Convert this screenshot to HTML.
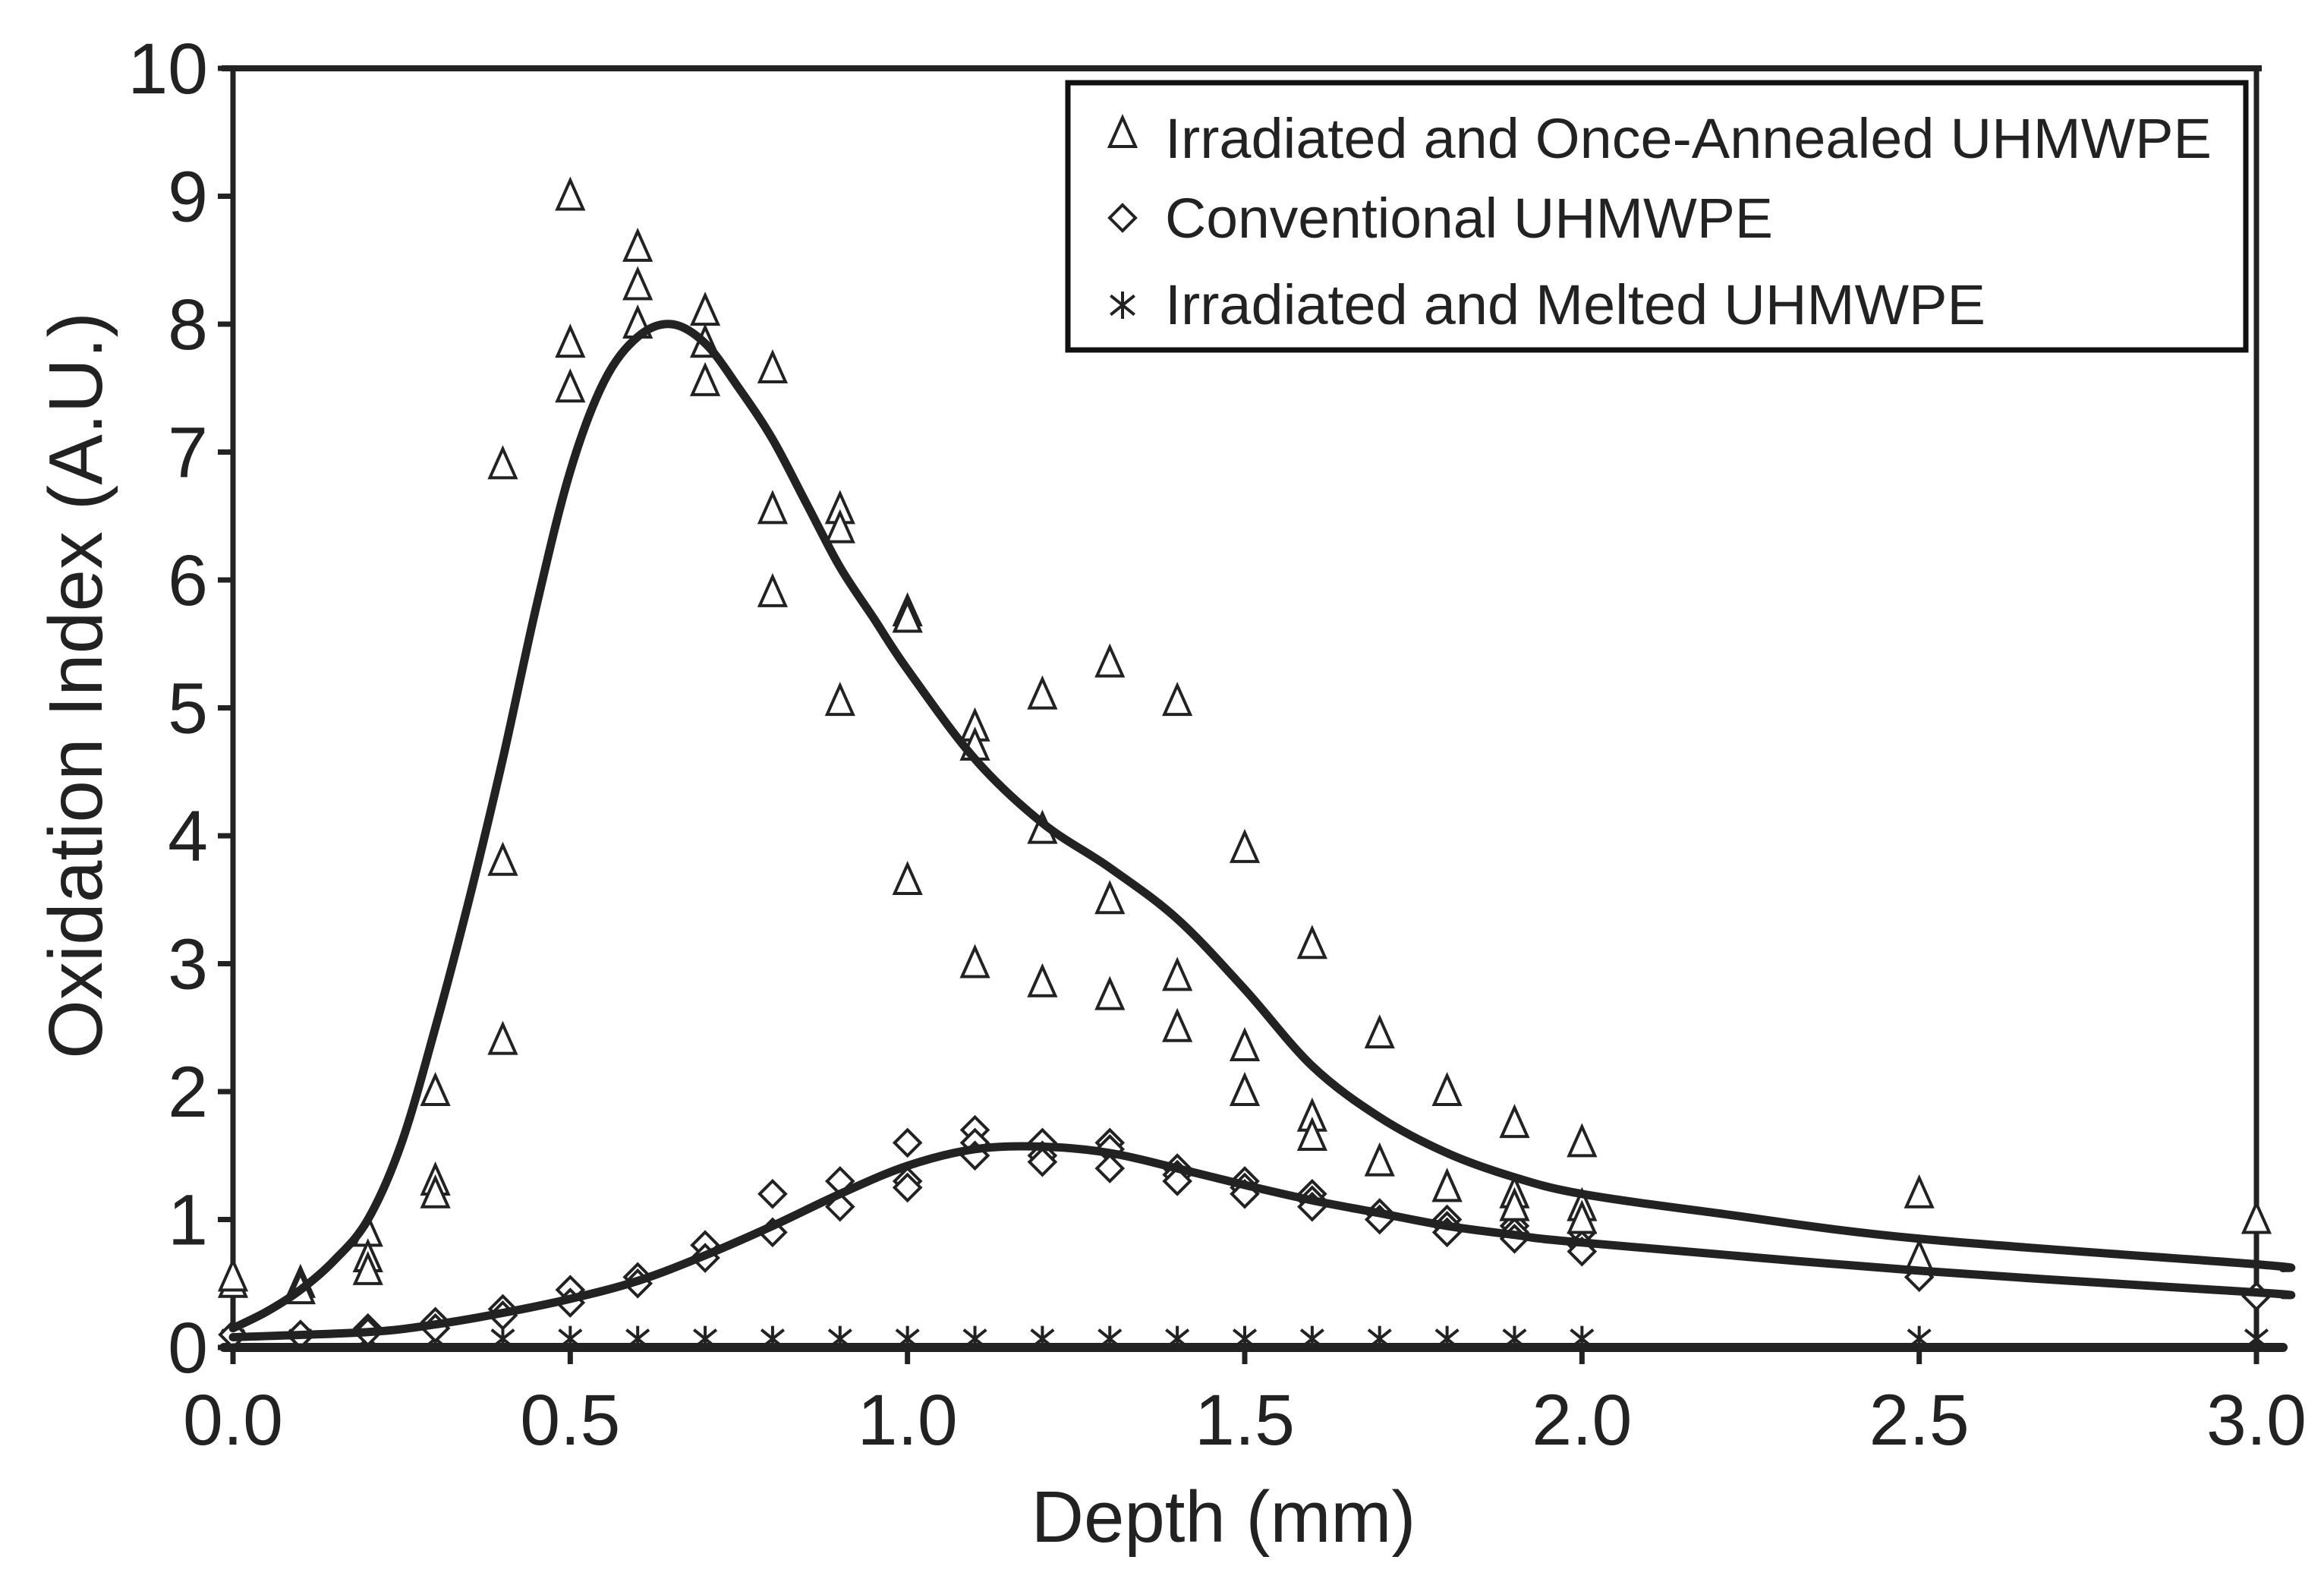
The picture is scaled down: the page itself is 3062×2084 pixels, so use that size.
<!DOCTYPE html>
<html><head><meta charset="utf-8"><style>
html,body{margin:0;padding:0;background:#fff;}
svg{display:block;font-family:"Liberation Sans",Arial,sans-serif;}
</style></head><body>
<svg id="chart" width="3062" height="2084" viewBox="0 0 3062 2084">
<g id="plot"></g>
</svg>
<script>
const xTicks=[0,0.5,1.0,1.5,2.0,2.5,3.0];
const xTickLabels=["0.0","0.5","1.0","1.5","2.0","2.5","3.0"];
const yTicks=[0,1,2,3,4,5,6,7,8,9,10];
const yTickLabels=["0","1","2","3","4","5","6","7","8","9","10"];
const annealedX=[0,0,0.1,0.1,0.2,0.2,0.2,0.3,0.3,0.3,0.4,0.4,0.4,0.5,0.5,0.5,0.6,0.6,0.6,0.7,0.7,0.7,0.8,0.8,0.8,0.9,0.9,0.9,1.0,1.0,1.0,1.1,1.1,1.1,1.2,1.2,1.2,1.3,1.3,1.3,1.4,1.4,1.4,1.5,1.5,1.5,1.6,1.6,1.6,1.7,1.7,1.8,1.8,1.8,1.9,1.9,1.9,2.0,2.0,2.0,2.5,2.5,3.0];
const annealedY=[0.5,0.55,0.5,0.45,0.9,0.7,0.6,2.0,1.3,1.2,6.9,3.8,2.4,9.0,7.85,7.5,8.6,8.3,8.0,8.1,7.85,7.55,7.65,6.55,5.9,6.55,6.4,5.05,5.75,5.7,3.65,4.85,4.7,3.0,5.1,4.05,2.85,5.35,3.5,2.75,5.05,2.9,2.5,3.9,2.35,2.0,3.15,1.8,1.65,2.45,1.45,2.0,1.25,1.25,1.75,1.2,1.1,1.6,1.1,1.0,1.2,0.7,1.0];
const convX=[0,0.1,0.1,0.2,0.2,0.3,0.3,0.4,0.4,0.5,0.5,0.6,0.6,0.7,0.7,0.8,0.8,0.9,0.9,1.0,1.0,1.0,1.1,1.1,1.1,1.2,1.2,1.2,1.3,1.3,1.3,1.4,1.4,1.4,1.5,1.5,1.5,1.6,1.6,1.6,1.7,1.7,1.8,1.8,1.8,1.9,1.9,1.9,2.0,2.0,2.0,2.5,2.5,3.0];
const convY=[0.1,0.1,0.1,0.15,0.12,0.2,0.15,0.3,0.25,0.45,0.35,0.55,0.5,0.8,0.7,1.2,0.9,1.3,1.1,1.6,1.3,1.25,1.7,1.6,1.5,1.6,1.5,1.45,1.6,1.55,1.4,1.4,1.35,1.3,1.3,1.25,1.2,1.2,1.15,1.1,1.05,1.0,1.0,0.95,0.9,0.95,0.9,0.85,0.9,0.8,0.75,0.6,0.55,0.4];
const meltedX=[0,0.1,0.2,0.3,0.4,0.5,0.6,0.7,0.8,0.9,1.0,1.1,1.2,1.3,1.4,1.5,1.6,1.7,1.8,1.9,2.0,2.5,3.0];
const meltedY=[0.02,0.02,0.02,0.02,0.02,0.02,0.02,0.02,0.02,0.02,0.02,0.02,0.02,0.02,0.02,0.02,0.02,0.02,0.02,0.02,0.02,0.02,0.02];
const fitAX=[0,0.05,0.1,0.15,0.2,0.25,0.3,0.35,0.4,0.45,0.5,0.55,0.6,0.65,0.7,0.75,0.8,0.85,0.9,0.95,1.0,1.1,1.2,1.3,1.4,1.5,1.6,1.7,1.8,1.9,2.0,2.2,2.5,3.0,3.04];
const fitAY=[0.15,0.28,0.45,0.68,1.0,1.6,2.5,3.5,4.6,5.8,6.85,7.55,7.9,8.0,7.85,7.5,7.1,6.6,6.1,5.7,5.3,4.6,4.1,3.75,3.35,2.8,2.2,1.8,1.52,1.33,1.2,1.05,0.85,0.65,0.62];
const fitCX=[0,0.2,0.3,0.4,0.5,0.6,0.7,0.8,0.9,1.0,1.1,1.2,1.3,1.4,1.5,1.6,1.7,1.8,1.9,2.0,2.5,3.0,3.04];
const fitCY=[0.08,0.12,0.18,0.27,0.38,0.52,0.72,0.95,1.2,1.42,1.55,1.57,1.52,1.4,1.27,1.15,1.05,0.95,0.88,0.82,0.6,0.43,0.41];
const fitMX=[0,3.04];
const fitMY=[0,0];

const X0=307,X1=2973,Y0=1775,Y1=90;
const sx=v=>X0+(v-0)/(3-0)*(X1-X0);
const sy=v=>Y0-(v-0)/(10-0)*(Y0-Y1);
const NS="http://www.w3.org/2000/svg";
const g=document.getElementById('plot');
function mk(tag,attrs,parent){const e=document.createElementNS(NS,tag);for(const k in attrs)e.setAttribute(k,attrs[k]);(parent||g).appendChild(e);return e;}

let e;
e=mk('line',{x1:X0,y1:Y1,x2:X0,y2:Y0+8,stroke:'#222','stroke-width':7});


e=mk('line',{x1:X0-15,y1:Y1,x2:2980,y2:Y1,stroke:'#222','stroke-width':8});


e=mk('line',{x1:X1,y1:Y1,x2:X1,y2:Y0+22,stroke:'#222','stroke-width':7});


e=mk('line',{x1:X0-12,y1:Y0,x2:3008,y2:Y0,stroke:'#222','stroke-width':12,'stroke-linecap':'round'});



yTicks.forEach((v,i)=>{
  const t=mk('line',{x1:X0-20,y1:sy(v),x2:X0,y2:sy(v),stroke:'#222','stroke-width':7});
  
  
  const l=mk('text',{x:274,y:sy(v)+33,'text-anchor':'end','font-size':95,fill:'#222'});
  l.textContent=yTickLabels[i];
  
  
});
xTicks.forEach((v,i)=>{
  const t=mk('line',{x1:sx(v),y1:Y0,x2:sx(v),y2:Y0+22,stroke:'#222','stroke-width':7});
  
  
  const l=mk('text',{x:sx(v),y:1903,'text-anchor':'middle','font-size':95,fill:'#222'});
  l.textContent=xTickLabels[i];
  
  
});

function smooth(xs,ys){
  const p=xs.map((x,i)=>[sx(x),sy(ys[i])]);
  if(p.length<3) return 'M'+p.map(q=>q.join(',')).join(' L');
  let d='M'+p[0][0]+','+p[0][1];
  for(let i=0;i<p.length-1;i++){
    const p0=p[Math.max(0,i-1)],p1=p[i],p2=p[i+1],p3=p[Math.min(p.length-1,i+2)];
    const c1=[p1[0]+(p2[0]-p0[0])/6,p1[1]+(p2[1]-p0[1])/6];
    const c2=[p2[0]-(p3[0]-p1[0])/6,p2[1]-(p3[1]-p1[1])/6];
    d+=' C'+c1.join(',')+' '+c2.join(',')+' '+p2.join(',');
  }
  return d;
}
function tri(cx,cy,s,parent){return mk('path',{d:`M${cx},${cy-s*0.62} L${cx+s/2},${cy+s*0.5} L${cx-s/2},${cy+s*0.5} Z`,fill:'#fff',stroke:'#222','stroke-width':4},parent);}
function dia(cx,cy,s,parent){return mk('path',{d:`M${cx},${cy-s/2} L${cx+s/2},${cy} L${cx},${cy+s/2} L${cx-s/2},${cy} Z`,fill:'#fff',stroke:'#222','stroke-width':4},parent);}
function star(cx,cy,s,parent){const r=s/2;const gg=mk('g',{stroke:'#222','stroke-width':4},parent);
  mk('line',{x1:cx,y1:cy-r,x2:cx,y2:cy+r},gg);
  mk('line',{x1:cx-r*0.87,y1:cy-r*0.7,x2:cx+r*0.87,y2:cy+r*0.7},gg);
  mk('line',{x1:cx+r*0.87,y1:cy-r*0.7,x2:cx-r*0.87,y2:cy+r*0.7},gg);return gg;}

meltedX.forEach((x,i)=>{const m=star(sx(x),sy(meltedY[i])-8,34);
  
  });
convX.forEach((x,i)=>{const m=dia(sx(x),sy(convY[i]),34);
  
  });
annealedX.forEach((x,i)=>{const m=tri(sx(x),sy(annealedY[i]),34);
  
  });

e=mk('path',{d:smooth(fitAX,fitAY),fill:'none',stroke:'#222','stroke-width':11,'stroke-linecap':'round'});


e=mk('path',{d:smooth(fitCX,fitCY),fill:'none',stroke:'#222','stroke-width':11,'stroke-linecap':'round'});


e=mk('path',{d:smooth(fitMX,fitMY),fill:'none',stroke:'#222','stroke-width':11,'stroke-linecap':'round'});



e=mk('text',{x:1612,y:2031,'text-anchor':'middle','font-size':96,fill:'#222'});
e.textContent='Depth (mm)';


e=mk('text',{x:0,y:0,'text-anchor':'middle','font-size':100,fill:'#222',transform:'translate(134,903) rotate(-90)'});
e.textContent='Oxidation Index (A.U.)';



const lg=mk('g',{});


mk('rect',{x:1407,y:109,width:1552,height:352,fill:'#fff',stroke:'#111','stroke-width':7},lg);
const legendLabels=["Irradiated and Once-Annealed UHMWPE","Conventional UHMWPE","Irradiated and Melted UHMWPE"];
const legendLen=[1379,801,1081];
const rowsBase=[208,313,427];
legendLabels.forEach((t,i)=>{
  const row=mk('g',{},lg);
  
  
  if(i===0) tri(1479,176,34,row);
  if(i===1) dia(1479,287,34,row);
  if(i===2) star(1479,402,36,row);
  const tx=mk('text',{x:1535,y:rowsBase[i],'font-size':74,fill:'#222',textLength:legendLen[i],lengthAdjust:'spacingAndGlyphs'},row);
  tx.textContent=t;
});
</script>
</body></html>
